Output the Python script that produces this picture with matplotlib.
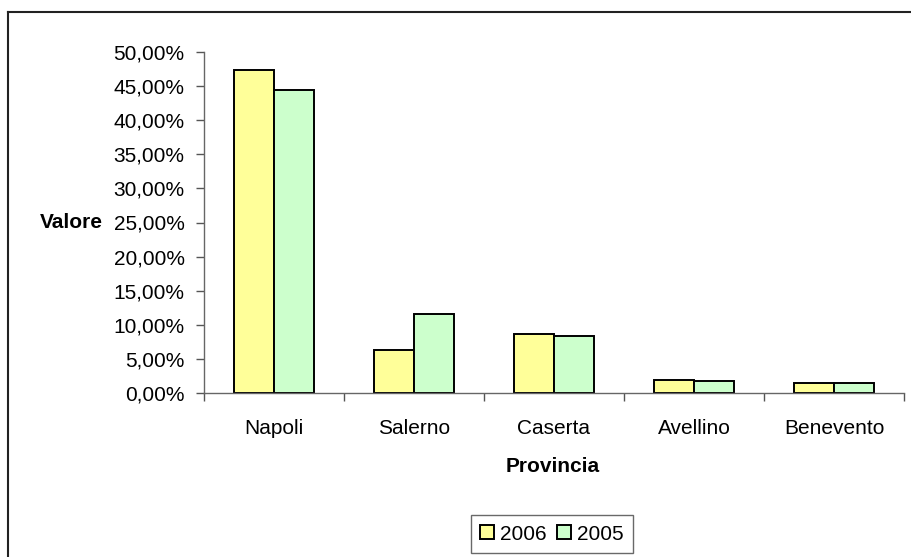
import numpy as np
import matplotlib.pyplot as plt
from matplotlib.lines import Line2D
from matplotlib.ticker import FuncFormatter, FixedLocator

plt.rcParams['font.family'] = ['Liberation Sans', 'DejaVu Sans']

province = ['Napoli', 'Salerno', 'Caserta', 'Avellino', 'Benevento']
val_2006 = [47.4, 6.3, 8.7, 1.95, 1.4]
val_2005 = [44.4, 11.6, 8.4, 1.7, 1.4]

W, H = 912, 557
FS = 15
fig = plt.figure(figsize=(W / 100, H / 100), dpi=100)
ax = fig.add_axes([204 / W, 1 - 393 / H, 700 / W, 341 / H])

x = np.arange(len(province))
bw = 40 / 140
ax.bar(x - bw / 2, val_2006, bw, color='#FFFF99', edgecolor='black', linewidth=1.4, label='2006')
ax.bar(x + bw / 2, val_2005, bw, color='#CCFFCC', edgecolor='black', linewidth=1.4, label='2005')

ax.set_xlim(-0.5, len(province) - 0.5)
ax.set_ylim(0, 50)
ax.set_yticks(np.arange(0, 51, 5))
ax.yaxis.set_major_formatter(FuncFormatter(lambda v, p: f'{v:.2f}%'.replace('.', ',')))

# category labels centred, tick marks between categories
ax.set_xticks(x)
ax.set_xticklabels(province)
ax.tick_params(axis='x', length=0, pad=19, labelsize=FS)
ax.xaxis.set_minor_locator(FixedLocator(np.arange(-0.5, len(province), 1)))
ax.tick_params(axis='x', which='minor', length=6, width=1, color='#555555')
ax.tick_params(axis='y', length=6, width=1, color='#555555', pad=8, labelsize=FS)

for s in ['top', 'right']:
    ax.spines[s].set_visible(False)
for s in ['left', 'bottom']:
    ax.spines[s].set_color('#666666')
    ax.spines[s].set_linewidth(1)

fig.text(103 / W, 1 - 222 / H, 'Valore', ha='right', va='center', fontsize=FS, fontweight='bold')
fig.text(553 / W, 1 - 467 / H, 'Provincia', ha='center', va='center', fontsize=FS, fontweight='bold')

leg = fig.legend(loc='center', bbox_to_anchor=(552 / W, 1 - 534 / H), ncol=2, frameon=True,
                 fancybox=False, edgecolor='#444444', fontsize=FS, handlelength=0.65,
                 handleheight=0.65, handletextpad=0.3, columnspacing=0.5, borderpad=0.45,
                 borderaxespad=0)
leg.get_frame().set_linewidth(1)

# chart area border (right and bottom lie outside the picture)
fig.add_artist(Line2D([8 / W, 8 / W], [0, 1 - 12 / H], color='#222222', lw=1.5))
fig.add_artist(Line2D([8 / W, 1], [1 - 12 / H, 1 - 12 / H], color='#222222', lw=1.5))

fig.savefig('out.png', dpi=100)
